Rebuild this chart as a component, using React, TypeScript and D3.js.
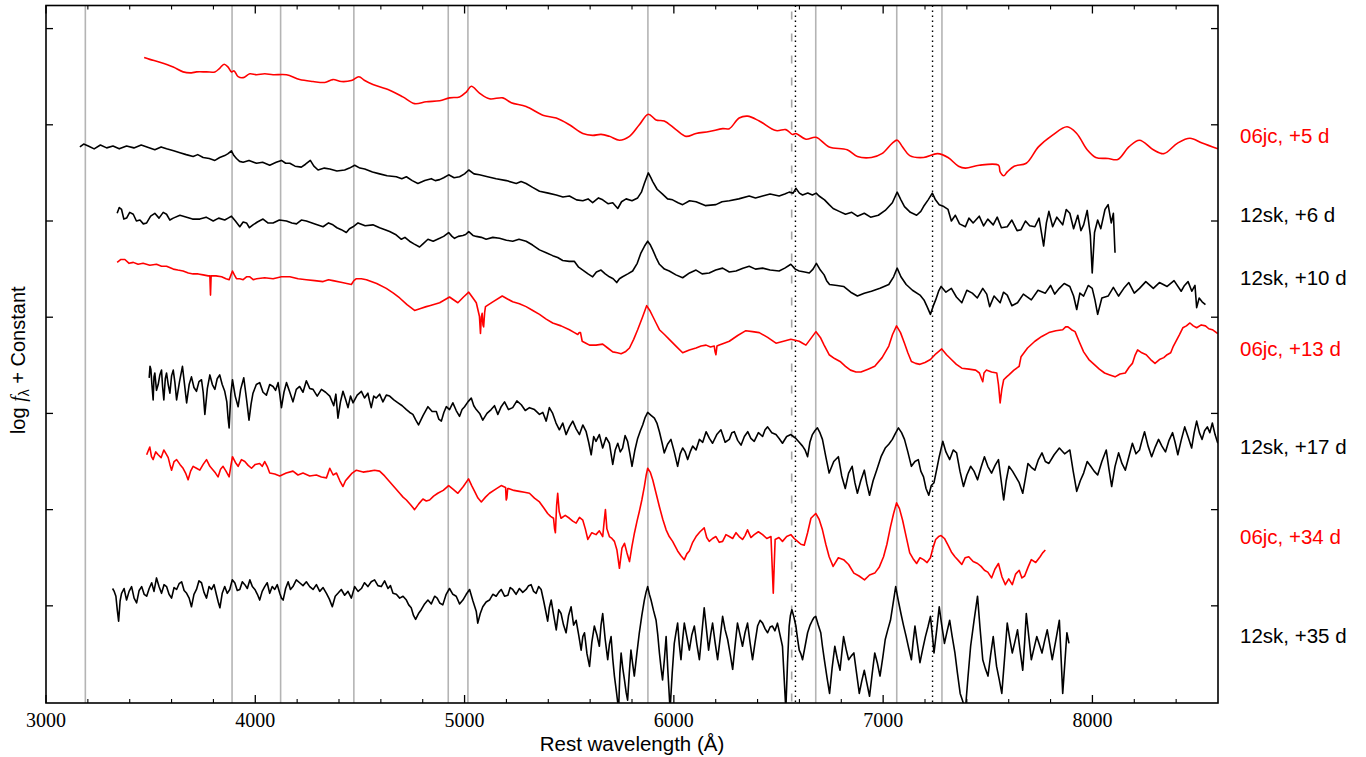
import React from "react";
import * as d3 from "d3";

// ---------- axis definitions ----------
const xDomain: [number, number] = [3000, 8600];
const yDomain: [number, number] = [-0.01, 7.24];
const xMajorTicks = [3000, 4000, 5000, 6000, 7000, 8000];
const xMinorTicks = [3200, 3400, 3600, 3800, 4200, 4400, 4600, 4800, 5200, 5400, 5600, 5800, 6200, 6400, 6600, 6800, 7200, 7400, 7600, 7800, 8200, 8400];
const yTicks = [1, 2, 3, 4, 5, 6, 7];

// ---------- reference lines (Å) ----------
const heLines = [3188, 3889, 4121, 4471, 4922, 5016, 5876, 6678, 7065, 7281];
const halphaLines = [6563];
const dottedLines = [6581, 7236];

// ---------- spectra: [rest wavelength (Å), log f + constant] ----------
const sn06jc_p5: [number, number][] = [[3469,6.70],[3496,6.68],[3544,6.65],[3608,6.60],[3655,6.55],[3695,6.54],[3719,6.55],[3767,6.55],[3807,6.55],[3831,6.59],[3851,6.63],[3870,6.60],[3886,6.55],[3899,6.56],[3918,6.50],[3942,6.49],[3974,6.53],[4006,6.52],[4045,6.53],[4085,6.52],[4149,6.52],[4212,6.47],[4276,6.45],[4332,6.44],[4371,6.47],[4411,6.45],[4459,6.46],[4495,6.50],[4523,6.46],[4562,6.42],[4642,6.36],[4705,6.29],[4761,6.22],[4817,6.24],[4881,6.25],[4928,6.28],[4976,6.29],[5008,6.34],[5032,6.40],[5071,6.33],[5119,6.27],[5183,6.28],[5223,6.23],[5294,6.19],[5374,6.10],[5438,6.07],[5501,6.00],[5565,5.91],[5612,5.89],[5652,5.90],[5692,5.88],[5740,5.84],[5788,5.88],[5835,6.00],[5878,6.11],[5915,6.05],[5954,6.04],[6010,5.95],[6058,5.88],[6106,5.91],[6169,5.93],[6233,5.96],[6265,5.96],[6312,6.07],[6352,6.09],[6408,6.04],[6488,5.94],[6535,5.95],[6567,5.90],[6583,5.91],[6631,5.85],[6679,5.87],[6742,5.77],[6828,5.74],[6877,5.67],[6944,5.66],[6994,5.70],[7044,5.81],[7067,5.84],[7093,5.77],[7127,5.68],[7193,5.66],[7260,5.70],[7310,5.66],[7360,5.57],[7393,5.55],[7459,5.58],[7551,5.58],[7559,5.51],[7576,5.47],[7593,5.51],[7626,5.57],[7684,5.60],[7742,5.77],[7808,5.89],[7879,5.98],[7925,5.91],[7975,5.74],[8016,5.66],[8075,5.65],[8121,5.64],[8174,5.77],[8225,5.84],[8291,5.74],[8341,5.70],[8407,5.81],[8466,5.86],[8524,5.81],[8599,5.75]];

const sn12sk_p6: [number, number][] = [[3162,5.77],[3180,5.80],[3202,5.78],[3230,5.75],[3260,5.79],[3290,5.76],[3320,5.78],[3350,5.75],[3385,5.78],[3420,5.76],[3455,5.79],[3496,5.76],[3520,5.74],[3550,5.77],[3576,5.75],[3610,5.73],[3640,5.71],[3670,5.69],[3703,5.67],[3725,5.69],[3751,5.66],[3780,5.65],[3807,5.63],[3830,5.66],[3854,5.68],[3870,5.70],[3886,5.73],[3898,5.68],[3910,5.65],[3925,5.62],[3942,5.61],[3970,5.63],[4006,5.60],[4035,5.61],[4069,5.58],[4100,5.61],[4125,5.63],[4145,5.60],[4165,5.60],[4190,5.57],[4220,5.56],[4240,5.59],[4263,5.63],[4280,5.57],[4300,5.53],[4330,5.55],[4356,5.54],[4390,5.52],[4427,5.53],[4450,5.55],[4475,5.58],[4500,5.55],[4523,5.54],[4560,5.51],[4594,5.49],[4630,5.47],[4674,5.46],[4700,5.44],[4722,5.46],[4750,5.42],[4777,5.39],[4810,5.42],[4841,5.44],[4860,5.42],[4881,5.43],[4900,5.45],[4924,5.48],[4950,5.45],[4976,5.46],[5000,5.49],[5020,5.53],[5045,5.49],[5071,5.48],[5110,5.46],[5151,5.44],[5200,5.42],[5247,5.39],[5270,5.41],[5294,5.39],[5325,5.35],[5358,5.31],[5400,5.29],[5438,5.27],[5470,5.25],[5501,5.26],[5535,5.22],[5565,5.21],[5590,5.23],[5612,5.19],[5640,5.24],[5660,5.22],[5685,5.18],[5708,5.19],[5732,5.13],[5750,5.20],[5772,5.23],[5800,5.21],[5827,5.24],[5845,5.30],[5859,5.39],[5878,5.50],[5890,5.45],[5899,5.41],[5920,5.33],[5946,5.28],[5970,5.23],[5994,5.22],[6020,5.19],[6042,5.17],[6075,5.21],[6106,5.20],[6150,5.16],[6201,5.17],[6230,5.20],[6265,5.21],[6310,5.23],[6360,5.26],[6390,5.24],[6424,5.26],[6460,5.28],[6503,5.26],[6530,5.28],[6551,5.30],[6570,5.29],[6583,5.34],[6600,5.29],[6615,5.27],[6640,5.29],[6662,5.27],[6680,5.29],[6694,5.26],[6720,5.22],[6742,5.17],[6761,5.13],[6790,5.10],[6820,5.07],[6850,5.09],[6877,5.05],[6910,5.08],[6940,5.04],[6977,5.06],[7010,5.11],[7044,5.19],[7067,5.30],[7085,5.22],[7102,5.15],[7130,5.09],[7160,5.06],[7180,5.10],[7193,5.15],[7215,5.22],[7235,5.29],[7250,5.22],[7268,5.17],[7290,5.15],[7310,5.12],[7326,5.00],[7345,5.06],[7365,4.97],[7393,4.94],[7410,5.03],[7430,4.98],[7459,5.05],[7480,4.95],[7500,5.02],[7526,4.96],[7545,5.04],[7565,4.93],[7593,4.94],[7615,5.01],[7640,4.90],[7659,4.91],[7680,5.00],[7700,4.95],[7725,4.94],[7745,5.03],[7767,4.74],[7780,4.98],[7792,5.10],[7810,4.94],[7830,5.04],[7858,4.96],[7875,5.12],[7892,5.08],[7910,4.92],[7930,5.06],[7945,4.90],[7958,4.96],[7975,5.11],[7990,4.85],[7999,4.46],[8010,4.88],[8025,5.01],[8040,4.92],[8060,5.12],[8075,5.17],[8090,4.98],[8100,5.08],[8108,4.67]];

const sn12sk_p10: [number, number][] = [[3340,5.08],[3350,5.14],[3361,5.12],[3372,5.02],[3385,5.03],[3400,5.09],[3417,5.07],[3432,5.00],[3449,5.01],[3465,4.97],[3481,4.98],[3500,5.05],[3520,5.08],[3540,5.03],[3560,5.09],[3576,5.07],[3592,5.01],[3608,5.03],[3640,5.06],[3672,5.04],[3700,5.02],[3735,5.02],[3765,5.04],[3799,5.00],[3825,5.03],[3854,5.01],[3870,5.03],[3886,5.05],[3905,5.00],[3926,4.94],[3942,4.99],[3958,4.98],[3972,4.93],[3989,4.96],[4010,4.99],[4037,5.02],[4060,4.98],[4085,4.98],[4115,5.01],[4149,5.00],[4175,4.98],[4197,4.97],[4220,5.01],[4244,5.00],[4285,4.97],[4324,4.94],[4350,4.98],[4371,4.96],[4390,4.93],[4411,4.91],[4435,4.88],[4450,4.92],[4467,4.94],[4491,4.98],[4525,4.95],[4562,4.96],[4594,4.93],[4620,4.91],[4642,4.89],[4670,4.86],[4698,4.81],[4715,4.83],[4737,4.79],[4760,4.76],[4785,4.73],[4800,4.76],[4825,4.81],[4850,4.79],[4881,4.82],[4900,4.84],[4924,4.88],[4940,4.84],[4952,4.82],[4970,4.84],[4992,4.85],[5005,4.86],[5020,4.89],[5040,4.85],[5056,4.84],[5080,4.83],[5103,4.81],[5135,4.83],[5167,4.82],[5200,4.80],[5230,4.79],[5260,4.81],[5294,4.79],[5325,4.75],[5358,4.70],[5390,4.67],[5421,4.64],[5445,4.62],[5469,4.59],[5500,4.58],[5525,4.58],[5545,4.52],[5565,4.49],[5590,4.45],[5612,4.42],[5630,4.47],[5652,4.49],[5672,4.45],[5692,4.42],[5710,4.40],[5727,4.36],[5740,4.40],[5755,4.42],[5780,4.45],[5803,4.48],[5825,4.56],[5843,4.67],[5860,4.74],[5875,4.79],[5888,4.75],[5899,4.70],[5915,4.62],[5931,4.55],[5955,4.50],[5978,4.48],[6010,4.44],[6042,4.41],[6075,4.46],[6106,4.49],[6135,4.45],[6169,4.46],[6200,4.49],[6233,4.51],[6265,4.47],[6297,4.48],[6330,4.51],[6360,4.53],[6390,4.50],[6424,4.51],[6460,4.49],[6503,4.48],[6530,4.51],[6559,4.55],[6580,4.50],[6599,4.48],[6625,4.47],[6647,4.46],[6665,4.50],[6681,4.56],[6700,4.49],[6718,4.44],[6730,4.38],[6744,4.34],[6780,4.33],[6811,4.32],[6845,4.26],[6877,4.22],[6910,4.25],[6944,4.27],[6985,4.30],[7027,4.34],[7050,4.42],[7067,4.51],[7085,4.42],[7110,4.34],[7140,4.28],[7176,4.23],[7195,4.18],[7210,4.11],[7226,4.03],[7240,4.12],[7251,4.18],[7265,4.27],[7277,4.32],[7300,4.26],[7326,4.30],[7350,4.21],[7376,4.15],[7400,4.28],[7426,4.25],[7450,4.20],[7476,4.30],[7495,4.24],[7509,4.11],[7530,4.22],[7559,4.15],[7575,4.26],[7593,4.23],[7615,4.12],[7642,4.15],[7670,4.24],[7708,4.18],[7740,4.28],[7775,4.25],[7800,4.33],[7820,4.24],[7842,4.30],[7865,4.35],[7892,4.32],[7910,4.22],[7925,4.08],[7940,4.25],[7958,4.22],[7980,4.33],[7999,4.30],[8012,4.18],[8025,4.03],[8045,4.20],[8075,4.22],[8100,4.31],[8125,4.22],[8150,4.30],[8174,4.36],[8200,4.25],[8225,4.30],[8255,4.37],[8291,4.30],[8320,4.36],[8357,4.32],[8390,4.38],[8424,4.27],[8440,4.33],[8457,4.37],[8475,4.27],[8490,4.33],[8498,4.10],[8510,4.20],[8524,4.16],[8540,4.13]];

const sn06jc_p13: [number, number][] = [[3340,4.57],[3358,4.60],[3377,4.60],[3397,4.56],[3417,4.57],[3440,4.55],[3464,4.56],[3496,4.54],[3528,4.55],[3552,4.53],[3576,4.53],[3608,4.50],[3630,4.49],[3655,4.48],[3680,4.46],[3703,4.45],[3727,4.45],[3751,4.44],[3775,4.43],[3783,4.43],[3786,4.23],[3789,4.43],[3812,4.43],[3839,4.42],[3860,4.40],[3875,4.39],[3884,4.44],[3891,4.48],[3900,4.44],[3910,4.40],[3926,4.40],[3942,4.39],[3958,4.42],[3974,4.42],[3990,4.39],[4006,4.40],[4045,4.41],[4085,4.40],[4125,4.42],[4165,4.42],[4205,4.40],[4244,4.39],[4284,4.38],[4324,4.37],[4350,4.39],[4371,4.38],[4415,4.36],[4459,4.34],[4471,4.38],[4483,4.40],[4507,4.40],[4531,4.39],[4580,4.35],[4626,4.30],[4660,4.25],[4690,4.20],[4725,4.13],[4761,4.07],[4790,4.09],[4817,4.11],[4833,4.12],[4881,4.15],[4928,4.21],[4968,4.15],[4995,4.21],[5020,4.26],[5040,4.20],[5056,4.15],[5071,4.01],[5076,3.83],[5080,4.00],[5084,4.04],[5088,3.92],[5091,3.90],[5096,4.05],[5100,4.11],[5135,4.16],[5180,4.22],[5205,4.19],[5230,4.16],[5262,4.14],[5294,4.11],[5326,4.07],[5358,4.03],[5390,3.98],[5421,3.94],[5461,3.91],[5501,3.87],[5525,3.84],[5541,3.82],[5548,3.84],[5554,3.84],[5562,3.75],[5580,3.73],[5597,3.71],[5628,3.71],[5660,3.72],[5684,3.68],[5708,3.64],[5730,3.63],[5748,3.62],[5768,3.64],[5788,3.68],[5808,3.77],[5827,3.87],[5850,4.00],[5870,4.12],[5885,4.07],[5899,4.01],[5915,3.94],[5931,3.87],[5955,3.82],[5978,3.77],[6010,3.70],[6042,3.63],[6074,3.66],[6106,3.68],[6130,3.70],[6154,3.71],[6175,3.69],[6193,3.70],[6197,3.64],[6201,3.61],[6206,3.70],[6217,3.71],[6240,3.73],[6265,3.75],[6305,3.81],[6344,3.86],[6376,3.85],[6408,3.84],[6448,3.79],[6488,3.73],[6524,3.75],[6559,3.77],[6580,3.76],[6599,3.75],[6615,3.73],[6631,3.71],[6655,3.78],[6679,3.85],[6700,3.79],[6718,3.71],[6730,3.66],[6742,3.61],[6768,3.57],[6794,3.54],[6820,3.49],[6844,3.45],[6870,3.43],[6894,3.43],[6928,3.46],[6960,3.49],[6995,3.58],[7027,3.70],[7045,3.82],[7064,3.91],[7083,3.84],[7102,3.73],[7118,3.63],[7135,3.54],[7155,3.52],[7176,3.51],[7200,3.53],[7226,3.56],[7252,3.62],[7280,3.67],[7303,3.61],[7326,3.56],[7350,3.51],[7376,3.47],[7410,3.46],[7442,3.45],[7460,3.42],[7470,3.36],[7476,3.33],[7482,3.42],[7493,3.45],[7518,3.43],[7543,3.42],[7551,3.30],[7559,3.11],[7567,3.25],[7576,3.35],[7590,3.38],[7601,3.40],[7625,3.45],[7650,3.49],[7659,3.59],[7690,3.68],[7725,3.75],[7758,3.80],[7792,3.84],[7825,3.86],[7858,3.87],[7872,3.90],[7883,3.90],[7900,3.87],[7917,3.85],[7938,3.74],[7958,3.64],[7983,3.56],[8008,3.51],[8033,3.46],[8058,3.42],[8083,3.40],[8108,3.38],[8132,3.41],[8157,3.42],[8175,3.48],[8191,3.52],[8203,3.60],[8216,3.66],[8236,3.63],[8257,3.61],[8278,3.56],[8299,3.52],[8320,3.56],[8341,3.58],[8357,3.61],[8374,3.63],[8387,3.70],[8399,3.75],[8416,3.82],[8432,3.89],[8449,3.91],[8466,3.94],[8482,3.91],[8498,3.89],[8520,3.92],[8540,3.91],[8556,3.88],[8573,3.87],[8586,3.85],[8599,3.83]];

const sn12sk_p17: [number, number][] = [[3493,3.37],[3497,3.49],[3501,3.46],[3506,3.30],[3512,3.14],[3516,3.38],[3520,3.42],[3528,3.24],[3536,3.30],[3544,3.40],[3552,3.45],[3557,3.28],[3563,3.14],[3570,3.36],[3576,3.42],[3584,3.30],[3592,3.21],[3600,3.39],[3608,3.45],[3616,3.32],[3624,3.14],[3638,3.33],[3652,3.49],[3662,3.30],[3672,3.11],[3684,3.30],[3695,3.38],[3707,3.27],[3719,3.23],[3731,3.33],[3743,3.35],[3751,3.22],[3759,2.99],[3771,3.26],[3783,3.40],[3795,3.30],[3807,3.25],[3818,3.36],[3830,3.40],[3842,3.30],[3854,3.23],[3864,3.12],[3870,2.95],[3875,2.85],[3883,3.20],[3891,3.35],[3904,3.18],[3918,3.07],[3930,3.25],[3945,3.37],[3958,3.15],[3970,2.93],[3980,3.10],[3989,3.21],[4005,3.30],[4021,3.32],[4037,3.22],[4053,3.19],[4069,3.30],[4085,3.28],[4097,3.24],[4109,3.32],[4117,3.20],[4125,3.06],[4137,3.22],[4149,3.32],[4165,3.22],[4180,3.12],[4196,3.25],[4212,3.28],[4228,3.22],[4244,3.34],[4260,3.26],[4276,3.25],[4296,3.18],[4316,3.25],[4336,3.22],[4356,3.18],[4375,3.08],[4385,3.20],[4395,2.95],[4407,3.12],[4419,3.23],[4431,3.15],[4443,3.06],[4455,3.18],[4467,3.11],[4487,3.19],[4507,3.23],[4522,3.16],[4538,3.21],[4546,3.13],[4554,3.06],[4566,3.18],[4578,3.16],[4594,3.20],[4610,3.12],[4626,3.19],[4642,3.18],[4662,3.14],[4682,3.11],[4702,3.08],[4722,3.04],[4738,3.01],[4753,2.99],[4767,2.93],[4780,2.88],[4802,2.98],[4825,3.07],[4845,3.02],[4865,3.02],[4877,2.94],[4889,2.92],[4901,3.01],[4913,3.07],[4928,3.04],[4944,3.11],[4960,3.03],[4976,2.97],[4988,3.04],[5000,3.07],[5016,3.12],[5032,3.16],[5044,3.08],[5056,3.04],[5072,3.00],[5087,2.93],[5107,3.00],[5127,3.04],[5143,3.08],[5159,2.99],[5175,3.07],[5191,3.12],[5210,3.04],[5230,3.06],[5250,3.13],[5271,3.09],[5290,3.03],[5310,3.06],[5334,3.04],[5358,2.99],[5374,3.01],[5390,2.92],[5405,3.06],[5421,3.00],[5437,2.90],[5453,2.83],[5469,2.90],[5485,2.78],[5501,2.86],[5517,2.92],[5533,2.84],[5549,2.78],[5565,2.88],[5581,2.81],[5593,2.70],[5605,2.57],[5617,2.76],[5628,2.71],[5644,2.78],[5660,2.64],[5676,2.75],[5692,2.69],[5700,2.58],[5708,2.47],[5720,2.62],[5732,2.69],[5744,2.60],[5755,2.64],[5767,2.77],[5779,2.71],[5790,2.58],[5800,2.45],[5814,2.62],[5827,2.74],[5840,2.82],[5851,2.88],[5863,2.96],[5875,3.01],[5891,2.98],[5907,2.95],[5919,2.90],[5931,2.81],[5943,2.70],[5954,2.59],[5970,2.68],[5986,2.73],[6002,2.60],[6018,2.45],[6030,2.58],[6042,2.64],[6054,2.60],[6066,2.52],[6078,2.60],[6090,2.66],[6106,2.62],[6122,2.73],[6138,2.70],[6154,2.81],[6170,2.74],[6185,2.69],[6205,2.78],[6225,2.83],[6245,2.70],[6265,2.73],[6277,2.80],[6289,2.81],[6305,2.72],[6321,2.67],[6337,2.76],[6353,2.81],[6368,2.74],[6384,2.71],[6404,2.80],[6424,2.76],[6436,2.83],[6448,2.86],[6468,2.80],[6488,2.78],[6503,2.74],[6519,2.69],[6539,2.76],[6559,2.78],[6571,2.76],[6583,2.74],[6599,2.70],[6615,2.66],[6627,2.62],[6639,2.55],[6650,2.70],[6662,2.78],[6674,2.82],[6686,2.85],[6698,2.80],[6710,2.73],[6726,2.55],[6742,2.38],[6764,2.50],[6786,2.55],[6802,2.35],[6819,2.22],[6835,2.38],[6852,2.45],[6865,2.28],[6877,2.17],[6893,2.30],[6910,2.41],[6922,2.27],[6935,2.15],[6952,2.30],[6969,2.41],[6990,2.55],[7010,2.64],[7027,2.68],[7044,2.73],[7058,2.79],[7073,2.85],[7088,2.80],[7102,2.73],[7118,2.60],[7135,2.45],[7152,2.50],[7168,2.52],[7180,2.40],[7193,2.34],[7205,2.22],[7218,2.15],[7230,2.25],[7243,2.28],[7256,2.42],[7268,2.55],[7285,2.71],[7300,2.60],[7318,2.52],[7335,2.62],[7351,2.59],[7367,2.40],[7384,2.24],[7400,2.36],[7418,2.45],[7434,2.40],[7451,2.31],[7468,2.44],[7484,2.55],[7500,2.45],[7518,2.38],[7535,2.46],[7551,2.52],[7564,2.30],[7576,2.10],[7588,2.30],[7601,2.45],[7618,2.40],[7634,2.34],[7650,2.28],[7667,2.17],[7680,2.33],[7692,2.48],[7708,2.44],[7725,2.41],[7742,2.52],[7759,2.59],[7775,2.50],[7792,2.48],[7817,2.57],[7842,2.64],[7867,2.58],[7892,2.62],[7908,2.40],[7925,2.19],[7942,2.30],[7958,2.38],[7975,2.50],[7992,2.45],[8008,2.40],[8025,2.36],[8045,2.50],[8066,2.62],[8079,2.42],[8092,2.24],[8108,2.45],[8125,2.59],[8141,2.48],[8157,2.41],[8174,2.55],[8191,2.69],[8208,2.58],[8225,2.62],[8237,2.72],[8249,2.81],[8266,2.66],[8283,2.55],[8300,2.65],[8316,2.73],[8332,2.66],[8349,2.60],[8366,2.72],[8383,2.80],[8395,2.70],[8408,2.57],[8424,2.72],[8441,2.86],[8458,2.75],[8474,2.64],[8486,2.80],[8498,2.92],[8511,2.80],[8524,2.73],[8536,2.82],[8549,2.86],[8561,2.80],[8573,2.90],[8586,2.78],[8599,2.69]];

const sn06jc_p34: [number, number][] = [[3481,2.57],[3490,2.62],[3496,2.65],[3504,2.55],[3512,2.52],[3524,2.60],[3536,2.57],[3550,2.54],[3563,2.62],[3574,2.58],[3584,2.54],[3592,2.47],[3600,2.41],[3612,2.50],[3624,2.52],[3640,2.47],[3655,2.43],[3667,2.38],[3679,2.31],[3691,2.40],[3703,2.45],[3719,2.43],[3735,2.41],[3751,2.47],[3767,2.52],[3783,2.45],[3799,2.41],[3810,2.38],[3822,2.34],[3834,2.42],[3846,2.45],[3860,2.40],[3875,2.34],[3883,2.45],[3891,2.55],[3905,2.49],[3918,2.45],[3934,2.52],[3950,2.50],[3966,2.46],[3982,2.43],[4000,2.47],[4021,2.48],[4033,2.45],[4045,2.50],[4057,2.45],[4069,2.38],[4093,2.37],[4117,2.35],[4148,2.38],[4180,2.40],[4204,2.36],[4228,2.38],[4260,2.35],[4292,2.36],[4316,2.34],[4340,2.33],[4356,2.43],[4372,2.36],[4388,2.38],[4404,2.30],[4419,2.24],[4431,2.30],[4443,2.33],[4463,2.38],[4483,2.41],[4515,2.39],[4546,2.40],[4570,2.41],[4594,2.40],[4618,2.35],[4642,2.29],[4666,2.23],[4690,2.17],[4706,2.13],[4722,2.10],[4742,2.05],[4761,2.00],[4781,2.06],[4801,2.11],[4817,2.09],[4833,2.10],[4852,2.14],[4872,2.17],[4898,2.20],[4924,2.25],[4946,2.21],[4968,2.17],[4994,2.24],[5019,2.32],[5034,2.25],[5048,2.19],[5064,2.12],[5080,2.08],[5100,2.13],[5119,2.17],[5147,2.21],[5175,2.25],[5196,2.23],[5199,2.10],[5202,2.12],[5206,2.22],[5210,2.22],[5236,2.20],[5262,2.19],[5286,2.18],[5310,2.17],[5334,2.12],[5358,2.08],[5378,2.02],[5397,1.96],[5411,1.93],[5425,1.91],[5430,1.80],[5434,1.76],[5440,2.05],[5445,2.17],[5452,1.98],[5461,1.91],[5481,1.94],[5501,1.91],[5517,1.88],[5533,1.86],[5549,1.92],[5565,1.89],[5577,1.80],[5589,1.69],[5608,1.76],[5628,1.74],[5644,1.78],[5660,1.72],[5668,1.90],[5673,2.00],[5680,1.80],[5692,1.72],[5704,1.70],[5716,1.67],[5728,1.58],[5740,1.39],[5752,1.60],[5764,1.65],[5776,1.55],[5788,1.46],[5800,1.62],[5812,1.76],[5824,1.88],[5835,1.98],[5847,2.10],[5859,2.24],[5868,2.36],[5875,2.43],[5887,2.39],[5899,2.31],[5915,2.17],[5931,2.03],[5947,1.90],[5963,1.79],[5978,1.72],[5994,1.67],[6006,1.62],[6018,1.57],[6034,1.52],[6050,1.48],[6062,1.54],[6074,1.57],[6090,1.66],[6106,1.72],[6125,1.77],[6145,1.81],[6157,1.71],[6169,1.67],[6185,1.70],[6201,1.72],[6217,1.66],[6233,1.67],[6249,1.74],[6265,1.72],[6281,1.70],[6297,1.76],[6312,1.72],[6328,1.69],[6340,1.73],[6352,1.79],[6368,1.71],[6384,1.74],[6404,1.77],[6424,1.74],[6444,1.70],[6464,1.72],[6470,1.40],[6475,1.13],[6480,1.45],[6484,1.69],[6502,1.71],[6519,1.67],[6539,1.72],[6559,1.74],[6575,1.70],[6591,1.67],[6607,1.64],[6623,1.63],[6639,1.76],[6655,1.91],[6678,1.96],[6694,1.90],[6710,1.79],[6726,1.64],[6742,1.51],[6761,1.41],[6786,1.50],[6811,1.48],[6835,1.43],[6860,1.34],[6885,1.31],[6911,1.27],[6935,1.32],[6960,1.34],[6981,1.40],[7002,1.51],[7018,1.64],[7035,1.82],[7050,1.96],[7064,2.07],[7078,2.01],[7093,1.89],[7110,1.72],[7127,1.55],[7143,1.49],[7160,1.44],[7176,1.50],[7193,1.48],[7210,1.45],[7226,1.50],[7238,1.60],[7251,1.69],[7265,1.72],[7277,1.73],[7293,1.70],[7310,1.63],[7326,1.56],[7343,1.51],[7360,1.47],[7376,1.43],[7392,1.50],[7409,1.51],[7430,1.46],[7451,1.44],[7468,1.41],[7484,1.37],[7500,1.35],[7518,1.29],[7534,1.38],[7551,1.44],[7568,1.30],[7584,1.22],[7600,1.28],[7617,1.22],[7633,1.33],[7650,1.37],[7663,1.29],[7676,1.31],[7692,1.40],[7708,1.48],[7729,1.45],[7750,1.51],[7762,1.55],[7775,1.58]];

const sn12sk_p35: [number, number][] = [[3318,1.18],[3326,1.15],[3334,1.10],[3341,0.95],[3347,0.84],[3354,1.05],[3361,1.13],[3373,1.18],[3385,1.06],[3397,1.15],[3409,1.20],[3421,1.08],[3433,1.03],[3445,1.16],[3457,1.20],[3469,1.12],[3481,1.10],[3493,1.18],[3505,1.24],[3516,1.15],[3528,1.29],[3540,1.20],[3552,1.13],[3564,1.22],[3576,1.20],[3588,1.12],[3600,1.08],[3612,1.19],[3624,1.17],[3636,1.23],[3648,1.25],[3660,1.16],[3672,1.13],[3684,1.08],[3695,0.99],[3707,1.12],[3719,1.17],[3731,1.26],[3743,1.24],[3755,1.14],[3767,1.08],[3779,1.20],[3791,1.17],[3803,1.22],[3815,1.11],[3823,1.04],[3831,0.98],[3842,1.13],[3854,1.20],[3866,1.13],[3878,1.17],[3890,1.27],[3902,1.24],[3914,1.16],[3926,1.17],[3938,1.25],[3950,1.22],[3962,1.18],[3974,1.27],[3986,1.20],[3998,1.17],[4010,1.12],[4021,1.06],[4033,1.15],[4045,1.20],[4057,1.24],[4069,1.13],[4081,1.20],[4093,1.17],[4105,1.22],[4117,1.13],[4125,1.08],[4133,1.06],[4145,1.18],[4157,1.25],[4168,1.17],[4180,1.20],[4196,1.27],[4212,1.24],[4228,1.21],[4244,1.25],[4260,1.20],[4276,1.17],[4292,1.22],[4308,1.15],[4324,1.19],[4340,1.13],[4354,1.07],[4368,0.99],[4382,1.10],[4395,1.13],[4411,1.17],[4427,1.11],[4443,1.15],[4459,1.08],[4467,1.14],[4475,1.20],[4491,1.15],[4507,1.18],[4522,1.24],[4538,1.20],[4554,1.25],[4570,1.27],[4586,1.21],[4602,1.20],[4618,1.26],[4634,1.18],[4646,1.21],[4658,1.13],[4674,1.12],[4690,1.08],[4706,1.10],[4722,1.06],[4733,1.01],[4745,0.98],[4756,0.90],[4766,0.86],[4780,0.92],[4793,0.96],[4809,1.02],[4825,1.06],[4841,1.02],[4857,1.10],[4869,1.08],[4881,1.03],[4896,1.01],[4912,1.12],[4928,1.18],[4944,1.12],[4960,1.10],[4976,1.02],[4992,1.06],[5008,1.12],[5024,1.17],[5040,1.05],[5056,0.94],[5063,0.82],[5075,0.92],[5087,0.99],[5103,1.04],[5119,1.06],[5135,1.12],[5151,1.10],[5163,1.14],[5175,1.17],[5191,1.10],[5207,1.11],[5218,1.19],[5230,1.17],[5246,1.12],[5262,1.18],[5278,1.14],[5294,1.17],[5306,1.21],[5318,1.22],[5330,1.15],[5342,1.13],[5354,1.20],[5366,1.17],[5378,1.05],[5390,0.92],[5397,0.84],[5405,0.98],[5414,1.06],[5426,0.90],[5438,0.75],[5450,0.96],[5461,0.92],[5473,0.80],[5485,0.72],[5497,0.90],[5509,0.99],[5521,0.80],[5533,0.85],[5545,0.70],[5557,0.54],[5565,0.68],[5573,0.72],[5585,0.50],[5597,0.37],[5608,0.62],[5620,0.79],[5632,0.70],[5644,0.58],[5652,0.80],[5660,0.92],[5672,0.65],[5684,0.44],[5692,0.60],[5700,0.68],[5708,0.45],[5716,0.27],[5726,0.10],[5736,-0.08],[5742,0.30],[5748,0.51],[5756,0.35],[5764,0.23],[5772,0.10],[5779,0.02],[5787,0.30],[5795,0.54],[5803,0.40],[5811,0.27],[5823,0.50],[5835,0.72],[5847,0.90],[5859,1.06],[5867,1.14],[5875,1.20],[5883,1.12],[5891,1.06],[5903,0.95],[5915,0.85],[5923,0.70],[5931,0.51],[5939,0.35],[5946,0.23],[5955,0.45],[5963,0.68],[5972,0.30],[5982,-0.08],[5992,0.30],[6002,0.61],[6010,0.72],[6018,0.82],[6026,0.60],[6034,0.44],[6042,0.65],[6050,0.82],[6062,0.68],[6074,0.54],[6086,0.70],[6098,0.79],[6110,0.60],[6122,0.44],[6134,0.72],[6145,0.98],[6156,0.75],[6166,0.54],[6176,0.70],[6185,0.82],[6197,0.62],[6209,0.44],[6221,0.66],[6233,0.89],[6245,0.75],[6257,0.65],[6269,0.50],[6281,0.34],[6293,0.60],[6304,0.82],[6316,0.70],[6328,0.58],[6340,0.72],[6352,0.82],[6364,0.62],[6376,0.44],[6388,0.62],[6400,0.79],[6412,0.85],[6424,0.82],[6436,0.76],[6448,0.72],[6460,0.78],[6471,0.79],[6483,0.74],[6495,0.82],[6507,0.70],[6519,0.58],[6527,0.25],[6535,-0.08],[6543,0.40],[6551,0.79],[6557,0.90],[6564,0.96],[6574,0.88],[6583,0.79],[6591,0.66],[6599,0.54],[6607,0.50],[6615,0.44],[6627,0.58],[6639,0.72],[6651,0.80],[6662,0.85],[6670,0.88],[6678,0.89],[6690,0.80],[6702,0.72],[6710,0.58],[6719,0.44],[6732,0.25],[6744,0.09],[6756,0.35],[6769,0.58],[6781,0.45],[6794,0.33],[6802,0.50],[6811,0.68],[6823,0.55],[6835,0.44],[6848,0.48],[6860,0.51],[6873,0.30],[6886,0.09],[6898,0.22],[6910,0.33],[6922,0.20],[6935,0.06],[6948,0.30],[6960,0.51],[6973,0.40],[6985,0.27],[6998,0.46],[7010,0.65],[7022,0.75],[7035,0.85],[7048,1.03],[7060,1.20],[7072,1.06],[7085,0.92],[7097,0.80],[7110,0.68],[7122,0.56],[7135,0.44],[7143,0.62],[7152,0.79],[7164,0.60],[7176,0.41],[7189,0.55],[7202,0.68],[7214,0.78],[7226,0.89],[7235,0.70],[7243,0.51],[7256,0.75],[7268,0.99],[7280,0.80],[7293,0.61],[7305,0.73],[7318,0.85],[7330,0.68],[7343,0.51],[7355,0.30],[7368,0.09],[7380,0.01],[7393,-0.08],[7405,0.25],[7418,0.58],[7434,0.84],[7451,1.10],[7463,0.77],[7476,0.44],[7488,0.35],[7501,0.27],[7513,0.48],[7526,0.68],[7534,0.52],[7542,0.37],[7555,0.23],[7567,0.09],[7580,0.45],[7593,0.82],[7605,0.66],[7617,0.51],[7630,0.63],[7642,0.75],[7654,0.54],[7667,0.33],[7676,0.62],[7684,0.92],[7696,0.68],[7708,0.44],[7721,0.56],[7734,0.68],[7746,0.60],[7759,0.51],[7771,0.63],[7784,0.75],[7796,0.60],[7808,0.44],[7825,0.64],[7842,0.85],[7850,0.47],[7858,0.09],[7868,0.40],[7878,0.72],[7888,0.61]];

// label name, color, label anchor value (log f + const)
const seriesNames = ["06jc, +5 d", "12sk, +6 d", "12sk, +10 d", "06jc, +13 d", "12sk, +17 d", "06jc, +34 d", "12sk, +35 d"];
const seriesColors = ["#ff0000", "#000000", "#000000", "#ff0000", "#000000", "#ff0000", "#000000"];
const labelLevels = [5.81, 4.99, 4.34, 3.60, 2.58, 1.64, 0.61];
const seriesData = [sn06jc_p5, sn12sk_p6, sn12sk_p10, sn06jc_p13, sn12sk_p17, sn06jc_p34, sn12sk_p35];
const smoothSeries = [true, false, false, false, false, false, false];

export default function App() {
  const W = 1366, H = 757;
  const L = 46, R = 1218, T = 5.5, B = 703;
  const x = d3.scaleLinear().domain(xDomain).range([L, R]);
  const y = d3.scaleLinear().domain(yDomain).range([B, T]);
  const line = d3.line<[number, number]>().x(d => x(d[0])).y(d => y(d[1]));
  const smoothLine = d3.line<[number, number]>().x(d => x(d[0])).y(d => y(d[1])).curve(d3.curveCatmullRom.alpha(0.5));
  const serif = "'Liberation Serif', 'DejaVu Serif', serif";
  const sans = "'Liberation Sans', Arial, sans-serif";

  return (
    <svg width={W} height={H} style={{ position: "absolute", left: 0, top: 0, background: "#fff" }}>
      <defs>
        <clipPath id="plotClip">
          <rect x={L} y={T} width={R - L} height={B - T} />
        </clipPath>
      </defs>
      <rect x={0} y={0} width={W} height={H} fill="#fff" />
      <g clipPath="url(#plotClip)">
        {heLines.map(w => (
          <line key={"he" + w} x1={x(w)} x2={x(w)} y1={T} y2={B} stroke="#b4b4b4" strokeWidth={1.6} />
        ))}
        {halphaLines.map(w => (
          <line key={"ha" + w} x1={x(w)} x2={x(w)} y1={T + 6} y2={B} stroke="#a8a8a8" strokeWidth={1.6} strokeDasharray="8,14" />
        ))}
        {dottedLines.map(w => (
          <line key={"dt" + w} x1={x(w)} x2={x(w)} y1={T} y2={B} stroke="#000" strokeWidth={1.4} strokeDasharray="1.4,3.6" />
        ))}
        {seriesData.map((d, i) => (
          <path key={"s" + i} d={(smoothSeries[i] ? smoothLine(d) : line(d)) || ""} fill="none" stroke={seriesColors[i]} strokeWidth={1.6} strokeLinejoin="round" />
        ))}
      </g>
      {/* frame */}
      <rect x={L} y={T} width={R - L} height={B - T} fill="none" stroke="#000" strokeWidth={1.6} />
      {/* x ticks bottom & top */}
      {xMajorTicks.map(t => (
        <g key={"xM" + t}>
          <line x1={x(t)} x2={x(t)} y1={B} y2={B - 8} stroke="#000" strokeWidth={1.3} />
          <line x1={x(t)} x2={x(t)} y1={T} y2={T + 8} stroke="#000" strokeWidth={1.3} />
          <text x={x(t)} y={727} textAnchor="middle" fontFamily={serif} fontSize={20} fill="#000">{t}</text>
        </g>
      ))}
      {xMinorTicks.map(t => (
        <g key={"xm" + t}>
          <line x1={x(t)} x2={x(t)} y1={B} y2={B - 4} stroke="#000" strokeWidth={1.1} />
          <line x1={x(t)} x2={x(t)} y1={T} y2={T + 4} stroke="#000" strokeWidth={1.1} />
        </g>
      ))}
      {yTicks.map(t => (
        <g key={"y" + t}>
          <line x1={L} x2={L + 7} y1={y(t)} y2={y(t)} stroke="#000" strokeWidth={1.3} />
          <line x1={R} x2={R - 7} y1={y(t)} y2={y(t)} stroke="#000" strokeWidth={1.3} />
        </g>
      ))}
      {/* axis titles */}
      <text x={(L + R) / 2} y={751} textAnchor="middle" fontFamily={sans} fontSize={20.5} fill="#000">Rest wavelength (Å)</text>
      <text transform={`translate(25, ${(T + B) / 2 + 6}) rotate(-90)`} textAnchor="middle" fontFamily={sans} fontSize={20} fill="#000">
        log <tspan fontStyle="italic" fontFamily={serif}>f</tspan><tspan fontSize={14} dy={4}>λ</tspan><tspan dy={-4}> + Constant</tspan>
      </text>
      {/* series labels */}
      {seriesNames.map((n, i) => (
        <text key={"lab" + i} x={1240} y={y(labelLevels[i])} fontFamily={sans} fontSize={20.5} fill={seriesColors[i]}>{n}</text>
      ))}
    </svg>
  );
}
